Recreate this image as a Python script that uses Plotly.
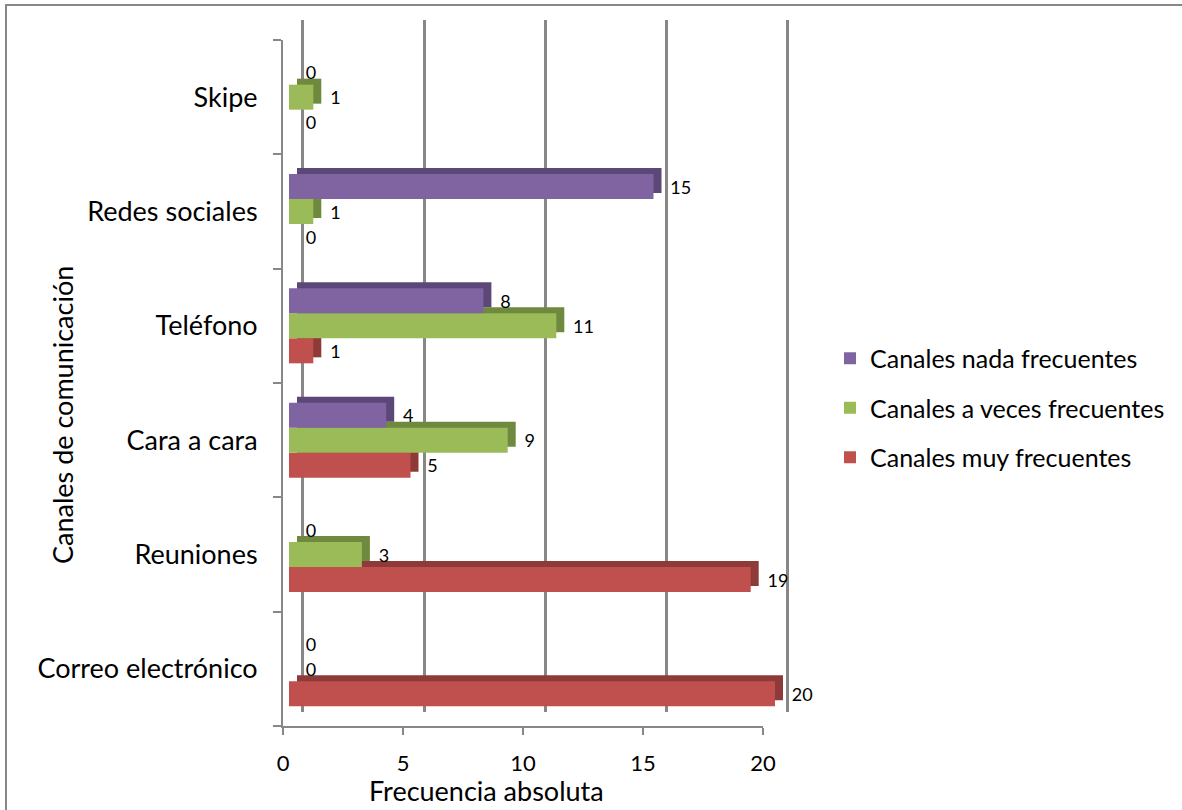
import plotly.graph_objects as go

categorias = ["Correo electrónico", "Reuniones", "Cara a cara", "Teléfono", "Redes sociales", "Skipe"]
muy_frecuentes = [20, 19, 5, 1, 0, 0]
a_veces_frecuentes = [0, 3, 9, 11, 1, 1]
nada_frecuentes = [0, 0, 4, 8, 15, 0]
ticks_x = [0, 5, 10, 15, 20]

series = [
    ("Canales muy frecuentes", muy_frecuentes, "#C0504D", "#8E3A38", 3),
    ("Canales a veces frecuentes", a_veces_frecuentes, "#9BBB59", "#6F8A3E", 2),
    ("Canales nada frecuentes", nada_frecuentes, "#8064A2", "#5C4878", 1),
]

FONT = "Lato, Open Sans, sans-serif"
GRAY = "#878787"

# plot area in page pixels
L, R, T, B = 283, 792, 20, 726
W, H = R - L, B - T
DX, DY = 8, 6  # 3-D depth offset of the bar faces

def px(x):
    return (x - L) / W

def py(y):
    return (B - y) / H

fig = go.Figure()

# helper (empty) traces so the back-wall grid axis and front tick axis get drawn (drawn first, below bars)
fig.add_trace(go.Scatter(x=[], y=[], xaxis="x", yaxis="y", showlegend=False, hoverinfo="skip"))
fig.add_trace(go.Scatter(x=[], y=[], xaxis="x2", yaxis="y2", showlegend=False, hoverinfo="skip"))

# depth (shaded top/side) of the bars
for name, vals, color, dark, rank in series:
    fig.add_trace(go.Bar(
        y=categorias, x=vals, orientation="h", showlegend=False, hoverinfo="skip",
        marker=dict(color=dark, line=dict(width=0)),
        xaxis="x3", yaxis="y3",
    ))

# front faces
for i, (name, vals, color, dark, rank) in enumerate(series):
    fig.add_trace(go.Bar(
        y=categorias, x=vals, name=name, orientation="h",
        marker=dict(color=color, line=dict(width=0)),
        text=[str(v) for v in vals], texttemplate="   %{text}", textposition="outside",
        textfont=dict(size=18, color="black", family=FONT),
        constraintext="none", cliponaxis=False, legendgroup=str(i), legendrank=rank,
        xaxis="x4", yaxis="y2",
    ))

upx = (788 - 303) / 20.0  # pixels per unit on the back wall
pad = 0.1

fig.update_layout(
    width=1182, height=810,
    paper_bgcolor="white", plot_bgcolor="rgba(0,0,0,0)",
    barmode="group", bargap=0.344, bargroupgap=0,
    margin=dict(l=L, r=1182 - R, t=T, b=810 - B, autoexpand=False),
    font=dict(family=FONT, color="black"),
    showlegend=True,
    legend=dict(
        traceorder="grouped", x=px(871 - 41), y=py(408), xanchor="left", yanchor="middle",
        font=dict(size=25, family=FONT), itemwidth=30, tracegroupgap=14,
        bgcolor="rgba(0,0,0,0)",
    ),
    # back-wall grid
    xaxis=dict(
        domain=[px(303 - pad * upx), px(788 + pad * upx)], range=[-pad, 20 + pad],
        anchor="y", tickvals=ticks_x,
        showgrid=True, gridcolor=GRAY, gridwidth=2.5,
        zeroline=False, showline=False, showticklabels=False, ticks="",
    ),
    yaxis=dict(
        domain=[py(712), 1], range=[0, 1], anchor="x",
        visible=False, showgrid=False,
    ),
    # front axis with tick labels
    xaxis2=dict(
        domain=[px(283), px(763)], range=[0, 20], anchor="y2", tickvals=ticks_x,
        showgrid=False, zeroline=False, showline=True, linecolor=GRAY, linewidth=2,
        ticks="outside", tickcolor=GRAY, tickwidth=2, ticklen=7,
        tickfont=dict(size=22, family=FONT), ticklabelstandoff=10,
    ),
    # category axis
    yaxis2=dict(
        domain=[0, py(40)], anchor="x2",
        showgrid=False, showline=True, linecolor=GRAY, linewidth=2,
        ticks="outside", tickson="boundaries", tickcolor=GRAY, tickwidth=2, ticklen=8,
        tickfont=dict(size=27, family=FONT), ticklabelstandoff=18,
    ),
    # depth faces axes (shifted right/up)
    xaxis3=dict(
        domain=[px(289 + DX), px(775 + DX)], range=[0, 20], anchor="y3", visible=False,
    ),
    yaxis3=dict(
        domain=[py(726 - DY), py(40 - DY)], anchor="x3", visible=False,
        categoryorder="array", categoryarray=categorias,
    ),
    # bar value axis
    xaxis4=dict(
        domain=[px(289), px(775)], range=[0, 20], anchor="y2",
        showgrid=False, zeroline=False, showline=False, showticklabels=False, ticks="",
    ),
    annotations=[
        dict(text="Canales de comunicación", xref="paper", yref="paper",
             x=px(62), y=py(415), xanchor="center", yanchor="middle", textangle=-90,
             showarrow=False, font=dict(size=27, family=FONT, color="black")),
        dict(text="Frecuencia absoluta", xref="paper", yref="paper",
             x=px(486), y=py(790), xanchor="center", yanchor="middle",
             showarrow=False, font=dict(size=27, family=FONT, color="black")),
    ],
    shapes=[dict(type="rect", xref="paper", yref="paper",
                 x0=px(6), x1=px(1195), y0=py(5), y1=py(825),
                 line=dict(color=GRAY, width=2), fillcolor="rgba(0,0,0,0)", layer="below")],
)

fig.write_html("out.html", config={"displayModeBar": False},
               post_script="document.body.style.margin='0';")
